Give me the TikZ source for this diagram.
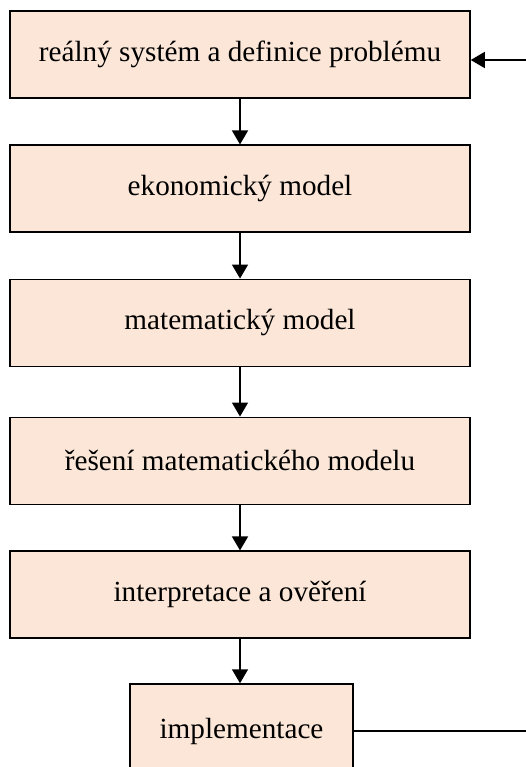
\documentclass[tikz,border=0pt]{standalone}
\usepackage{fontspec}
\setmainfont{Liberation Serif}
\usetikzlibrary{arrows.meta}
\definecolor{boxfill}{HTML}{FBE6D7}
\begin{document}
\begin{tikzpicture}[x=1pt,y=-1pt,
  stage/.style={draw=black,line width=1.5pt,fill=boxfill,
    minimum height=87pt,inner sep=0pt,
    font=\fontsize{29.2}{35}\selectfont},
  wide/.style={stage,minimum width=460pt},
  flow/.style={line width=1.5pt,-{Triangle[length=14pt,width=16pt]}}]
\useasboundingbox (0,0) rectangle (525,767);

\node[wide] (s1) at (240,54.5)  {reálný systém a definice problému};
\node[wide] (s2) at (240,188.7) {ekonomický model};
\node[wide] (s3) at (240,322.8) {matematický model};
\node[wide] (s4) at (240,460.8) {řešení matematického modelu};
\node[wide] (s5) at (240,594.7) {interpretace a ověření};
\node[stage,minimum width=223pt,minimum height=94pt] (s6) at (241.5,731) {implementace};

\draw[flow] (s1.south) -- (s2.north);
\draw[flow] (s2.south) -- (s3.north);
\draw[flow] (s3.south) -- (s4.north);
\draw[flow] (s4.south) -- (s5.north);
\draw[flow] (s5.south) -- (s5.south |- s6.north);

% feedback loop back to the first stage
\coordinate (loopb) at (527,731);
\coordinate (loopt) at (527,60);
\draw[flow] (s6.east) -- (loopb) -- (loopt) -- (loopt -| s1.east);
\end{tikzpicture}
\end{document}
